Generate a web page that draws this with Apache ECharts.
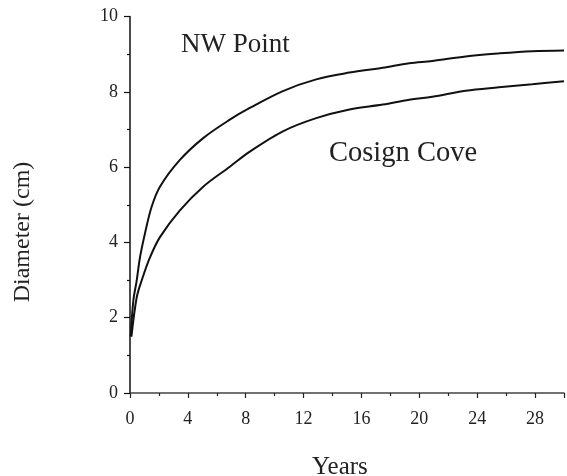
<!DOCTYPE html>
<html>
<head>
<meta charset="utf-8">
<script src="https://cdn.jsdelivr.net/npm/echarts@6/dist/echarts.min.js"></script>
<style>html,body{margin:0;padding:0;background:#fff}#c{width:567px;height:476px}</style>
</head>
<body>
<div id="c"></div>
<script>
var xTicks = [0, 4, 8, 12, 16, 20, 24, 28];
var yTicks = [0, 2, 4, 6, 8, 10];
var nwYears = [0.05, 0.23, 0.46, 0.69, 1.03, 1.49, 2.07, 3.45, 5.06, 6.9, 8.28, 10.57, 12.87, 15.17, 17.47, 19.3, 20.9, 23.2, 25.5, 27.8, 30];
var nwDiam  = [1.5, 2.45, 2.98, 3.6, 4.23, 4.94, 5.48, 6.19, 6.77, 7.26, 7.57, 8.02, 8.33, 8.51, 8.64, 8.76, 8.82, 8.94, 9.02, 9.08, 9.1];
var ccYears = [0.1, 0.46, 0.8, 1.38, 2.07, 3.45, 5.06, 6.9, 8.28, 10.57, 12.87, 15.17, 17.47, 19.3, 20.9, 23.2, 25.5, 27.8, 30];
var ccDiam  = [1.5, 2.53, 2.98, 3.6, 4.14, 4.85, 5.48, 6.01, 6.41, 6.95, 7.3, 7.53, 7.66, 7.79, 7.87, 8.03, 8.12, 8.2, 8.28];

function pairs(xs, ys) { return xs.map(function (x, i) { return [x, ys[i]]; }); }

var FONT = 'Liberation Serif';
var chart = echarts.init(document.getElementById('c'), null, {renderer: 'canvas'});
chart.setOption({
  animation: false,
  backgroundColor: '#fff',
  grid: {left: 130, right: 1, top: 16.5, bottom: 83, containLabel: false},
  xAxis: {
    type: 'value', min: 0, max: 30, interval: 4,
    axisLine: {show: true, onZero: false, lineStyle: {color: '#444', width: 1.5}},
    axisTick: {show: true, inside: false, length: 5, lineStyle: {color: '#222', width: 1.2}},
    minorTick: {show: true, splitNumber: 2, length: 3, lineStyle: {color: '#222', width: 1.2}},
    splitLine: {show: false},
    axisLabel: {
      margin: 17, color: '#222', fontFamily: FONT, fontSize: 18,
      formatter: function (v) { return xTicks.indexOf(v) >= 0 ? String(v) : ''; }
    }
  },
  yAxis: {
    type: 'value', min: 0, max: 10, interval: 2,
    axisLine: {show: true, onZero: false, lineStyle: {color: '#111', width: 1.5}},
    axisTick: {show: true, inside: false, length: 6, lineStyle: {color: '#111', width: 1.2}},
    minorTick: {show: true, splitNumber: 2, length: 3, lineStyle: {color: '#111', width: 1.2}},
    splitLine: {show: false},
    axisLabel: {
      margin: 12, color: '#222', fontFamily: FONT, fontSize: 18, padding: [7, 0, 0, 0],
      formatter: function (v) { return yTicks.indexOf(v) >= 0 ? String(v) : ''; }
    }
  },
  series: [
    {name: 'NW Point', type: 'line', data: pairs(nwYears, nwDiam), smooth: 0.35,
     showSymbol: false, lineStyle: {color: '#111', width: 2}},
    {name: 'Cosign Cove', type: 'line', data: pairs(ccYears, ccDiam), smooth: 0.35,
     showSymbol: false, lineStyle: {color: '#111', width: 2}}
  ],
  graphic: [
    {type: 'text', left: 181, top: 31, style: {text: 'NW Point', font: '27px "Liberation Serif"', fill: '#222'}},
    {type: 'text', left: 329, top: 139, style: {text: 'Cosign Cove', font: '28.5px "Liberation Serif"', fill: '#222'}},
    {type: 'text', left: 312, top: 455, style: {text: 'Years', font: '25px "Liberation Serif"', fill: '#222'}},
    {type: 'text', x: 23, y: 232, rotation: Math.PI / 2,
     style: {text: 'Diameter (cm)', font: '24px "Liberation Serif"', fill: '#222', align: 'center', verticalAlign: 'middle'}}
  ]
});
</script>
</body>
</html>
